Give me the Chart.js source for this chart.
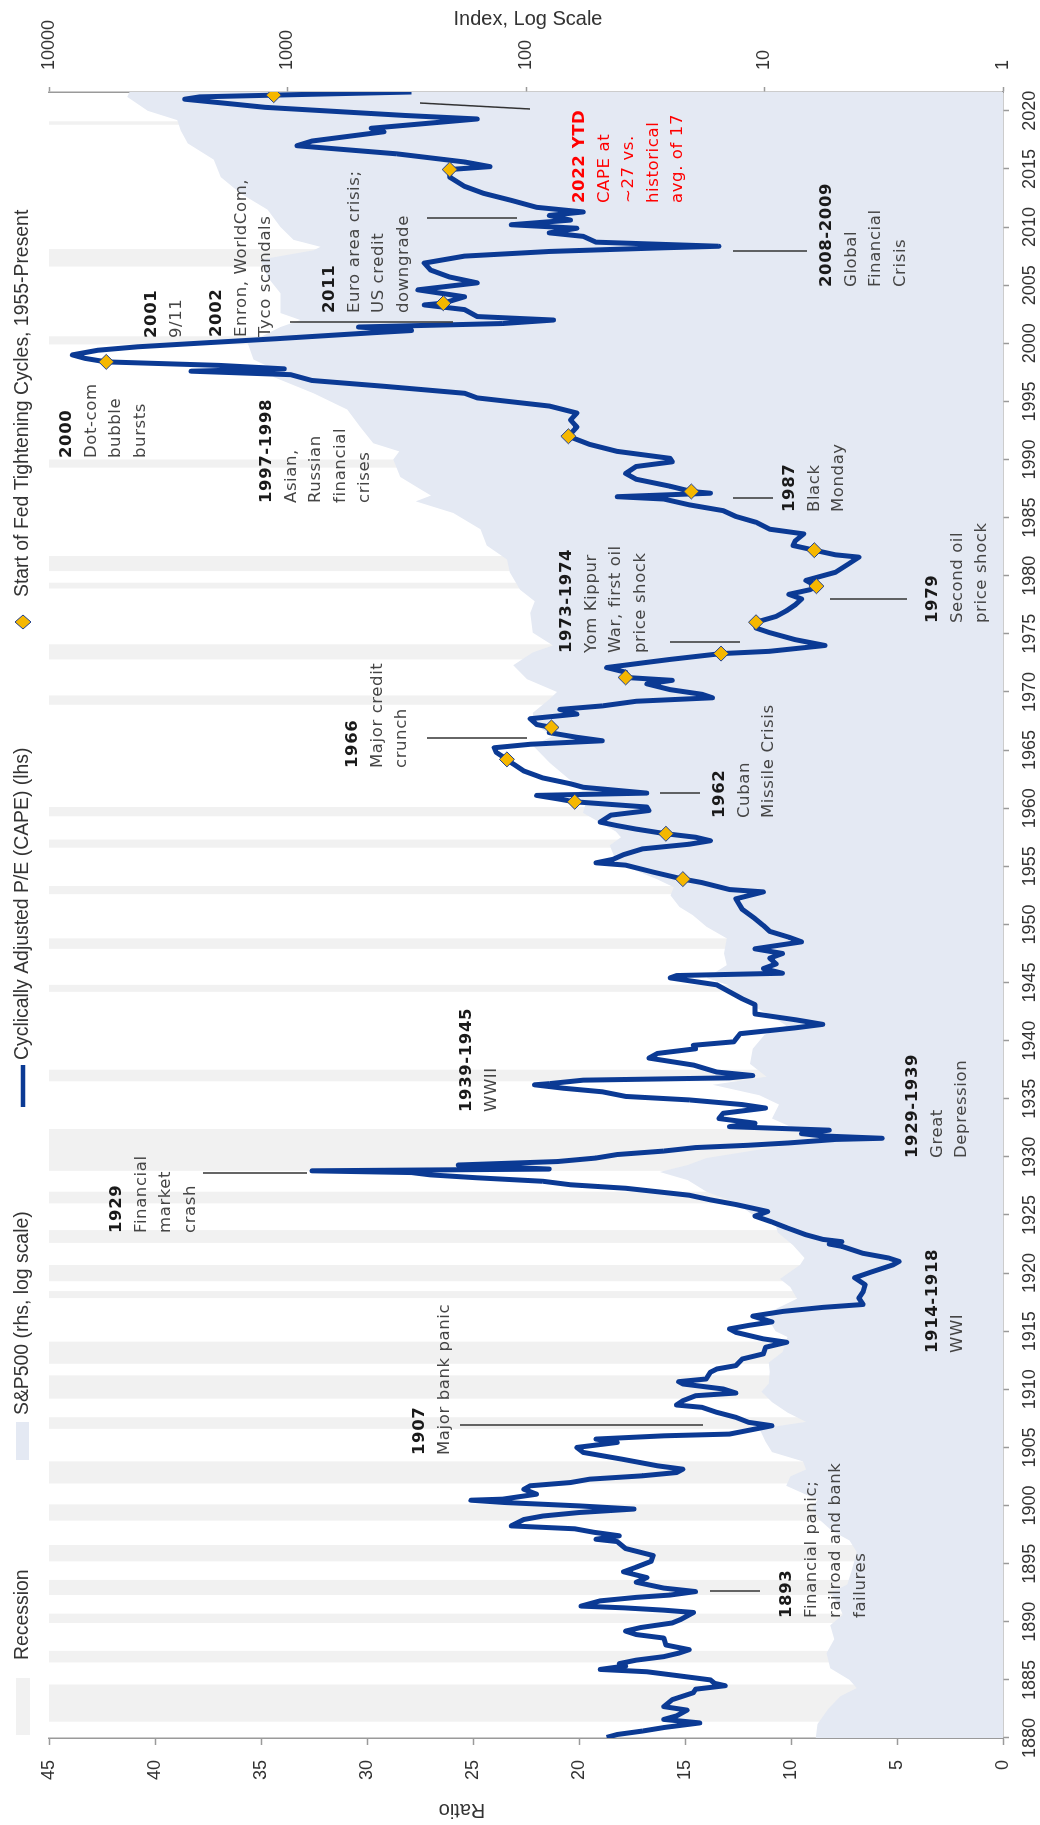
<!DOCTYPE html>
<html>
<head>
<meta charset="utf-8">
<script src="https://cdn.jsdelivr.net/npm/chart.js@4.4.0/dist/chart.umd.min.js"></script>
<style>
html, body { margin: 0; padding: 0; background: #fff; overflow: hidden; }
body { width: 1040px; height: 1825px; position: relative; }
#wrap { position: absolute; left: 0; top: 0; width: 1825px; height: 1040px;
        transform-origin: 0 0; transform: translate(0px, 1825px) rotate(-90deg); }
</style>
</head>
<body>
<div id="wrap"><canvas id="myChart" width="1825" height="1040"></canvas></div>
<script>
// CAPE (lhs)
const capeYears = [
  1880.05, 1880.3, 1880.6, 1880.9, 1881.3, 1881.6, 1881.9, 1882.4, 1882.7, 1883.3, 1883.9, 1884.2, 1884.5, 1884.7,
  1885.0, 1885.4, 1885.7, 1885.9, 1886.2, 1886.4, 1886.7, 1887.0, 1887.3, 1887.6, 1888.0, 1888.6, 1888.9, 1889.2,
  1889.5, 1889.9, 1890.2, 1890.8, 1891.0, 1891.2, 1891.35, 1891.8, 1892.1, 1892.3, 1892.6, 1892.9, 1893.4, 1893.8,
  1894.3, 1894.7, 1895.2, 1895.7, 1896.3, 1896.9, 1897.1, 1897.4, 1897.7, 1898.0, 1898.25, 1898.8, 1899.1, 1899.4,
  1899.7, 1899.97, 1900.26, 1900.46, 1900.55, 1900.98, 1901.4, 1901.7, 1901.98, 1902.27, 1902.56, 1902.84, 1903.13,
  1903.42, 1904.0, 1904.57, 1905.0, 1905.43, 1905.72, 1906.0, 1906.15, 1906.58, 1906.87, 1907.16, 1907.59, 1908.02,
  1908.45, 1908.65, 1909.02, 1909.45, 1909.68, 1910.03, 1910.46, 1910.66, 1910.89, 1911.47, 1911.75, 1912.04, 1912.61,
  1913.05, 1913.62, 1914.05, 1914.34, 1914.9, 1915.2, 1915.5, 1915.8, 1916.3, 1916.7, 1917.05, 1917.3, 1917.85, 1918.4,
  1919.0, 1919.6, 1920.1, 1920.7, 1921.0, 1921.3, 1921.7, 1922.3, 1922.5, 1922.7, 1922.9, 1923.3, 1923.9, 1924.4,
  1924.9, 1925.3, 1925.9, 1926.3, 1926.7, 1927.0, 1927.3, 1927.6, 1927.9, 1928.2, 1928.45, 1928.65, 1928.8, 1928.95,
  1929.3, 1929.6, 1929.9, 1930.2, 1930.5, 1930.8, 1931.0, 1931.2, 1931.5, 1931.6, 1931.8, 1932.0, 1932.3, 1932.6,
  1932.9, 1933.3, 1933.75, 1934.2, 1934.5, 1934.9, 1935.2, 1935.6, 1935.9, 1936.2, 1936.3, 1936.6, 1936.8, 1937.0,
  1937.3, 1937.9, 1938.5, 1938.9, 1939.3, 1939.6, 1939.9, 1940.6, 1941.1, 1941.4, 1941.8, 1942.3, 1943.1, 1943.6,
  1944.2, 1944.8, 1945.4, 1945.6, 1945.8, 1946.2, 1946.6, 1947.1, 1947.5, 1947.9, 1948.5, 1948.9, 1949.4, 1949.9,
  1950.5, 1951.3, 1952.2, 1952.8, 1953.0, 1953.6, 1953.9, 1954.5, 1955.1, 1955.3, 1955.6, 1956.0, 1956.5, 1956.9,
  1957.2, 1957.5, 1957.8, 1958.2, 1958.5, 1958.8, 1959.4, 1959.8, 1960.1, 1960.55, 1960.8, 1961.1, 1961.3, 1961.8,
  1962.1, 1962.6, 1963.2, 1963.8, 1964.2, 1964.8, 1965.2, 1965.5, 1965.8, 1966.1, 1966.5, 1966.95, 1967.2, 1967.7,
  1968.1, 1968.5, 1968.8, 1969.2, 1969.5, 1969.8, 1970.2, 1970.7, 1971.0, 1971.25, 1971.7, 1972.1, 1972.5, 1972.8,
  1973.3, 1973.5, 1974.0, 1974.5, 1975.1, 1975.5, 1976.0, 1976.5, 1977.0, 1977.5, 1978.0, 1978.4, 1978.8, 1979.1,
  1979.6, 1980.3, 1981.0, 1981.6, 1981.8, 1982.2, 1982.6, 1983.0, 1983.6, 1984.0, 1984.6, 1985.1, 1985.6, 1986.1,
  1986.6, 1986.8, 1987.1, 1987.25, 1987.7, 1988.3, 1988.8, 1989.4, 1989.8, 1990.1, 1990.7, 1991.3, 1992.0, 1992.8,
  1993.4, 1994.0, 1994.6, 1995.3, 1995.7, 1996.3, 1996.8, 1997.3, 1997.6, 1997.8, 1998.1, 1998.4, 1998.7, 1999.0,
  1999.4, 1999.7, 2000.0, 2000.4, 2000.9, 2001.1, 2001.4, 2001.7, 2002.0, 2002.3, 2002.9, 2003.3, 2003.45, 2004.0,
  2004.6, 2005.2, 2005.7, 2006.3, 2006.9, 2007.5, 2007.9, 2008.2, 2008.35, 2008.7, 2009.2, 2009.5, 2009.9, 2010.2,
  2010.6, 2011.0, 2011.3, 2011.7, 2012.3, 2012.9, 2013.5, 2014.3, 2014.95, 2015.2, 2015.6, 2016.3, 2017.0, 2017.4,
  2018.2, 2018.5, 2019.3, 2019.6, 2020.3, 2020.6, 2021.0, 2021.2, 2021.35, 2021.62
];
const capeValues = [
  18.7, 18.2, 17.0, 16.0, 14.3, 16.0, 15.4, 14.9, 16.0, 15.6, 14.6, 14.5, 13.1, 13.6,
  13.8, 15.5, 16.8, 19.0, 17.8, 18.1, 17.3, 16.0, 15.3, 14.8, 15.9, 16.0, 17.3, 17.8,
  17.1, 15.6, 15.2, 14.6, 16.0, 17.9, 19.9, 19.0, 17.3, 15.7, 14.5, 16.0, 17.3, 16.8,
  17.9, 17.3, 16.6, 16.5, 17.8, 18.2, 19.2, 18.1, 19.3, 20.2, 23.2, 22.6, 21.7, 20.0,
  17.4, 20.0, 23.5, 25.1, 23.6, 22.0, 22.6, 22.3, 20.4, 19.5, 17.0, 15.4, 15.1,
  16.3, 18.0, 19.8, 20.1, 18.2, 19.2, 16.0, 12.9, 11.7, 10.9, 12.0, 12.6, 13.5,
  14.2, 15.4, 15.1, 14.5, 12.6, 13.2, 15.1, 15.3, 14.0, 13.8, 13.5, 12.6, 12.3,
  11.3, 11.2, 10.2, 11.3, 12.6, 12.9, 12.0, 10.9, 11.8, 10.4, 8.5, 6.6, 6.8, 6.6,
  6.5, 7.0, 6.2, 5.2, 4.9, 5.4, 6.6, 7.6, 8.2, 7.6, 8.5, 9.3, 10.2, 10.9,
  11.7, 11.1, 12.6, 13.8, 14.8, 16.3, 17.8, 20.4, 21.7, 24.8, 27.0, 27.9, 32.6, 21.4,
  25.7, 21.0, 19.2, 18.2, 16.0, 14.5, 12.0, 10.1, 7.9, 5.7, 8.5, 9.5, 8.2, 12.9,
  11.7, 13.4, 13.2, 11.2, 12.3, 14.8, 17.8, 18.9, 20.7, 22.1, 21.4, 19.8, 12.9, 11.8,
  13.5, 14.6, 16.7, 16.3, 14.5, 14.6, 12.7, 12.4, 9.8, 8.5, 9.8, 11.7, 11.7, 12.3,
  12.9, 13.5, 15.7, 15.4, 10.4, 11.3, 10.7, 11.0, 10.4, 11.7, 9.5, 10.1, 11.0, 11.3,
  11.7, 12.3, 12.6, 11.3, 12.9, 14.2, 15.1, 16.5, 17.8, 19.2, 18.4, 17.9, 17.0, 14.8,
  13.8, 14.5, 15.9, 17.3, 18.2, 19.0, 18.5, 16.7, 16.8, 20.2, 21.0, 22.0, 16.8, 19.8,
  20.4, 21.7, 22.6, 23.1, 23.4, 23.9, 24.0, 22.3, 18.9, 20.1, 21.4, 21.3, 22.0, 22.3,
  20.1, 20.9, 18.9, 17.3, 13.7, 14.2, 15.7, 16.8, 15.6, 17.8, 17.8, 18.7, 17.0, 15.7,
  13.3, 11.0, 8.4, 9.8, 11.0, 11.65, 11.65, 10.7, 10.2, 9.8, 9.5, 10.1, 9.1, 8.8,
  9.3, 7.9, 7.3, 6.8, 7.9, 8.9, 9.9, 9.8, 9.4, 11.0, 11.65, 12.6, 13.2, 14.8,
  16.0, 18.2, 13.8, 14.7, 15.7, 17.3, 17.8, 17.3, 15.6, 15.7, 18.2, 19.5, 20.5, 20.1,
  20.4, 20.1, 21.4, 24.8, 25.4, 29.2, 32.6, 33.6, 38.3, 33.9, 37.0, 42.3, 43.3, 43.9,
  42.7, 40.8, 38.0, 34.2, 29.8, 27.9, 30.4, 23.6, 21.2, 24.8, 25.4, 27.3, 26.4, 25.4,
  27.6, 24.8, 26.1, 27.0, 27.3, 25.4, 21.4, 16.3, 13.4, 19.2, 19.8, 21.4, 20.1, 23.2,
  20.4, 21.4, 19.8, 22.0, 23.2, 24.5, 25.4, 26.1, 26.1, 24.2, 25.4, 28.6, 33.3, 32.6,
  29.2, 29.8, 24.8, 28.2, 34.8, 36.4, 38.6, 37.9, 34.4, 27.9
];

// S&P500 index level (rhs, log scale)
const spYears = [
  1880.0, 1881.2, 1882.5, 1883.6, 1884.3, 1885.0, 1886.0, 1887.3, 1888.5, 1889.7, 1890.6, 1891.5, 1892.5, 1893.2,
  1894.5, 1896.0, 1897.0, 1897.8, 1898.8, 1899.8, 1900.5, 1901.7, 1902.5, 1903.1, 1903.8, 1904.6, 1905.5, 1906.6,
  1907.2, 1908.0, 1908.9, 1909.8, 1910.5, 1911.5, 1912.3, 1913.2, 1914.5, 1915.0, 1916.0, 1916.8, 1917.8, 1918.8,
  1919.5, 1920.7, 1921.3, 1922.4, 1923.5, 1924.2, 1925.0, 1926.0, 1927.0, 1928.0, 1928.7, 1929.3, 1929.9, 1931.0,
  1931.6, 1932.5, 1933.3, 1934.5, 1935.3, 1936.2, 1936.9, 1938.0, 1939.3, 1940.5, 1941.3, 1942.2, 1943.6, 1944.8,
  1945.4, 1946.5, 1947.5, 1948.8, 1949.8, 1950.8, 1951.5, 1952.5, 1953.2, 1953.9, 1955.3, 1956.8, 1957.5, 1958.0,
  1959.6, 1960.5, 1961.1, 1961.6, 1962.5, 1963.9, 1965.4, 1966.2, 1967.2, 1968.2, 1969.4, 1970.0, 1971.1, 1972.3,
  1973.4, 1974.0, 1975.1, 1976.8, 1977.8, 1978.8, 1980.3, 1981.4, 1982.6, 1984.0, 1985.4, 1986.4, 1986.9, 1987.4,
  1988.5, 1990.0, 1990.7, 1991.4, 1992.8, 1994.3, 1995.7, 1997.1, 1998.0, 1998.6, 2000.0, 2001.4, 2002.0, 2002.6,
  2004.3, 2005.7, 2007.2, 2008.0, 2008.3, 2008.9, 2010.0, 2011.5, 2012.9, 2014.3, 2015.8, 2017.2, 2018.3, 2019.2,
  2020.0, 2021.2, 2021.62
];
const spValues = [
  6.1, 6.0, 5.4, 4.8, 4.1, 4.4, 5.3, 5.5, 5.1, 5.3, 4.7, 4.9, 5.3, 4.5,
  4.3, 4.1, 4.4, 5.2, 5.9, 6.3, 6.0, 8.1, 7.8, 6.7, 6.9, 9.3, 9.9, 10.5,
  6.7, 8.0, 9.3, 10.3, 9.6, 9.5, 9.6, 8.4, 8.0, 9.0, 9.6, 9.2, 7.3, 7.8,
  8.6, 7.1, 6.8, 7.6, 8.8, 9.0, 11.2, 13.0, 17.5, 21.0, 27.5, 21.0, 17.5, 8.1,
  5.2, 7.6, 9.3, 8.7, 10.5, 16.5, 9.8, 11.5, 11.2, 10.0, 8.1, 9.5, 12.7, 14.3,
  17.5, 14.4, 14.8, 14.4, 17.5, 20.0, 22.7, 24.8, 24.0, 28.3, 41.6, 44.5, 40.0, 42.0,
  57.7, 56.0, 67.3, 56.0, 66.0, 79.5, 93.6, 77.0, 92.0, 93.6, 79.5, 74.2, 99.0, 113,
  93.6, 77.0, 93.6, 96.0, 92.0, 106, 117, 120, 146, 155, 202, 290, 250, 275,
  337, 360, 340, 437, 495, 561, 778, 1145, 1200, 1387, 1469, 1070, 883, 1070,
  1070, 1213, 1297, 778, 728, 944, 1070, 1213, 1573, 1906, 2040, 2620, 2800, 2900,
  3850, 4700, 4600
];

// Start of Fed tightening cycles, 1955-present
const fedYears = [1953.9, 1957.8, 1960.55, 1964.2, 1966.95, 1971.25, 1973.3, 1976.0, 1979.1, 1982.2,
                  1987.25, 1992.0, 1998.4, 2003.45, 2014.95, 2021.35];
const fedValues = [15.1, 15.9, 20.2, 23.4, 21.3, 17.8, 13.3, 11.65, 8.8, 8.9,
                   14.7, 20.5, 42.3, 26.4, 26.1, 34.4];

// Recession shading
const recessionStarts = [1881.4, 1886.5, 1889.9, 1892.3, 1895.2, 1898.7, 1901.9, 1906.6, 1909.2, 1912.2,
                         1917.85, 1919.3, 1922.6, 1926.0, 1928.8, 1936.5, 1944.2, 1947.9, 1952.6, 1956.6,
                         1959.3, 1968.9, 1972.8, 1978.9, 1980.4, 1989.3, 1999.9, 2006.6, 2018.8];
const recessionEnds = [1884.6, 1887.5, 1890.7, 1893.6, 1896.6, 1900.1, 1903.8, 1907.6, 1911.2, 1914.1,
                       1918.45, 1920.7, 1923.7, 1927.0, 1932.4, 1937.5, 1944.8, 1948.8, 1953.3, 1957.3,
                       1960.1, 1969.7, 1974.1, 1979.4, 1981.7, 1990.0, 2000.6, 2008.1, 2019.1];

const logTicks = [1, 10, 100, 1000, 10000];

// text notes (canvas px, before the page is turned) and their leader lines
const notes = [
  { x: 207, y: 787, lines: ['1893', 'Financial panic;', 'railroad and bank', 'failures'] },
  { x: 370, y: 420, lines: ['1907', 'Major bank panic'] },
  { x: 472, y: 933, lines: ['1914-1918', 'WWI'] },
  { x: 592, y: 117, lines: ['1929', 'Financial', 'market', 'crash'] },
  { x: 667, y: 913, lines: ['1929-1939', 'Great', 'Depression'] },
  { x: 713, y: 467, lines: ['1939-1945', 'WWII'] },
  { x: 1007, y: 720, lines: ['1962', 'Cuban', 'Missile Crisis'] },
  { x: 1057, y: 353, lines: ['1966', 'Major credit', 'crunch'] },
  { x: 1172, y: 567, lines: ['1973-1974', 'Yom Kippur', 'War, first oil', 'price shock'] },
  { x: 1202, y: 933, lines: ['1979', 'Second oil', 'price shock'] },
  { x: 1313, y: 790, lines: ['1987', 'Black', 'Monday'] },
  { x: 1322, y: 267, lines: ['1997-1998', 'Asian,', 'Russian', 'financial', 'crises'] },
  { x: 1367, y: 67, lines: ['2000', 'Dot-com', 'bubble', 'bursts'] },
  { x: 1487, y: 152, lines: ['2001', '9/11'] },
  { x: 1488, y: 217, lines: ['2002', 'Enron, WorldCom,', 'Tyco scandals'] },
  { x: 1512, y: 330, lines: ['2011', 'Euro area crisis;', 'US credit', 'downgrade'] },
  { x: 1538, y: 827, lines: ['2008-2009', 'Global', 'Financial', 'Crisis'] },
  { x: 1622, y: 580, lines: ['2022 YTD', 'CAPE at', '~27 vs.', 'historical', 'avg. of 17'], red: true }
];
const leaders = [
  [234, 710, 234, 760], [400, 460, 400, 703], [652, 203, 652, 307], [1032, 660, 1032, 700],
  [1087, 427, 1087, 527], [1183, 670, 1183, 740], [1226, 830, 1226, 907], [1327, 733, 1327, 773],
  [1503, 290, 1503, 453], [1607, 427, 1607, 517], [1574, 733, 1574, 807], [1722, 420, 1716, 530]
];

const LINE_BLUE = '#0b3a94';
const AREA_BLUE = '#e4e9f3';
const REC_GREY = '#f1f1f1';
const AXIS_GREY = '#9a9a9a';
const FONT = "'Liberation Sans', Arial, sans-serif";
const NOTE_FONT = "'DejaVu Sans', Verdana, sans-serif";

function pts(xs, ys) { return xs.map((x, i) => ({ x: x, y: ys[i] })); }

const decor = {
  id: 'decor',
  beforeDraw(chart) {
    const { ctx, chartArea: a, scales: { x } } = chart;
    ctx.save();
    ctx.fillStyle = REC_GREY;
    recessionStarts.forEach((s, i) => {
      const x0 = x.getPixelForValue(s), x1 = x.getPixelForValue(recessionEnds[i]);
      ctx.fillRect(x0, a.top, x1 - x0, a.bottom - a.top);
    });
    ctx.restore();
  },
  afterDraw(chart) {
    const ctx = chart.ctx;
    ctx.save();
    // axis titles
    ctx.fillStyle = '#333';
    ctx.font = '20px ' + FONT;
    ctx.textAlign = 'center';
    ctx.textBaseline = 'middle';
    ctx.save(); ctx.translate(15, 462); ctx.rotate(-Math.PI / 2); ctx.fillText('Ratio', 0, 0); ctx.restore();
    ctx.save(); ctx.translate(1806, 528); ctx.rotate(Math.PI / 2); ctx.fillText('Index, Log Scale', 0, 0); ctx.restore();

    // legend
    ctx.textAlign = 'left';
    ctx.font = '19.4px ' + FONT;
    ctx.fillStyle = REC_GREY; ctx.fillRect(90, 16, 57, 14);
    ctx.fillStyle = AREA_BLUE; ctx.fillRect(365, 16, 38, 13);
    ctx.strokeStyle = LINE_BLUE; ctx.lineWidth = 4.5;
    ctx.beginPath(); ctx.moveTo(718, 23); ctx.lineTo(760, 23); ctx.stroke();
    ctx.fillStyle = '#f5b700'; ctx.strokeStyle = '#1f3f8f'; ctx.lineWidth = 1;
    ctx.beginPath(); ctx.moveTo(1203, 15); ctx.lineTo(1210, 23); ctx.lineTo(1203, 31); ctx.lineTo(1196, 23);
    ctx.closePath(); ctx.fill(); ctx.stroke();
    ctx.fillStyle = '#333';
    ctx.fillText('Recession', 165, 23);
    ctx.fillText('S&P500 (rhs, log scale)', 410, 23);
    ctx.fillText('Cyclically Adjusted P/E (CAPE) (lhs)', 765, 23);
    ctx.fillText('Start of Fed Tightening Cycles, 1955-Present', 1228, 23);

    // leader lines
    ctx.strokeStyle = '#333'; ctx.lineWidth = 1.5;
    leaders.forEach(l => { ctx.beginPath(); ctx.moveTo(l[0], l[1]); ctx.lineTo(l[2], l[3]); ctx.stroke(); });

    // notes
    ctx.letterSpacing = '0.6px';
    notes.forEach(n => {
      n.lines.forEach((t, i) => {
        ctx.font = (i === 0 ? 'bold ' : '') + '16.5px ' + NOTE_FONT;
        ctx.fillStyle = n.red ? '#ff0000' : (i === 0 ? '#1a1a1a' : '#454545');
        ctx.fillText(t, n.x, n.y + i * 24.5);
      });
    });
    ctx.restore();
  }
};

const tickFont = { family: FONT, size: 18 };

const chart = new Chart(document.getElementById('myChart').getContext('2d'), {
  type: 'line',
  data: {
    datasets: [
      {
        label: 'Start of Fed Tightening Cycles, 1955-Present',
        data: pts(fedYears, fedValues),
        yAxisID: 'y',
        showLine: false,
        pointStyle: 'rectRot',
        pointRadius: 7.5,
        pointBackgroundColor: '#f5b700',
        pointBorderColor: '#1f3f8f',
        pointBorderWidth: 1,
        order: 0
      },
      {
        label: 'Cyclically Adjusted P/E (CAPE) (lhs)',
        data: pts(capeYears, capeValues),
        yAxisID: 'y',
        borderColor: LINE_BLUE,
        borderWidth: 5,
        borderJoinStyle: 'round',
        pointRadius: 0,
        tension: 0,
        order: 1
      },
      {
        label: 'S&P500 (rhs, log scale)',
        data: pts(spYears, spValues),
        yAxisID: 'y2',
        borderWidth: 0,
        backgroundColor: AREA_BLUE,
        fill: 'start',
        pointRadius: 0,
        tension: 0,
        order: 2
      }
    ]
  },
  options: {
    responsive: false,
    animation: false,
    devicePixelRatio: 1,
    layout: { padding: { top: 49, left: 0, right: 0, bottom: 0 } },
    plugins: { legend: { display: false }, tooltip: { enabled: false } },
    scales: {
      x: {
        type: 'linear',
        min: 1880,
        max: 2021.62,
        afterFit: s => { s.height = 37; },
        grid: { drawOnChartArea: false, drawTicks: true, tickLength: 6, tickColor: AXIS_GREY, tickWidth: 1.5 },
        border: { display: true, color: AXIS_GREY, width: 1.5 },
        ticks: { stepSize: 5, includeBounds: false, maxRotation: 0, autoSkip: false, padding: 10,
                 color: '#333', font: tickFont, callback: v => String(v) }
      },
      y: {
        position: 'left',
        min: 0,
        max: 45,
        afterFit: s => { s.width = 87; },
        grid: { drawOnChartArea: false, drawTicks: true, tickLength: 7, tickColor: AXIS_GREY, tickWidth: 1.5 },
        border: { display: true, color: AXIS_GREY, width: 1.5 },
        ticks: { stepSize: 5, padding: 15, color: '#333', font: tickFont }
      },
      y2: {
        type: 'logarithmic',
        position: 'right',
        min: 1,
        max: 10000,
        afterFit: s => { s.width = 92; },
        afterBuildTicks: s => { s.ticks = logTicks.map(v => ({ value: v, major: true })); },
        grid: { drawOnChartArea: false, drawTicks: true, tickLength: 5, tickColor: AXIS_GREY, tickWidth: 1.5 },
        border: { display: true, color: AXIS_GREY, width: 1.5 },
        ticks: { padding: 17, color: '#333', font: tickFont, callback: v => String(v) }
      }
    }
  },
  plugins: [decor]
});
</script>
</body>
</html>
